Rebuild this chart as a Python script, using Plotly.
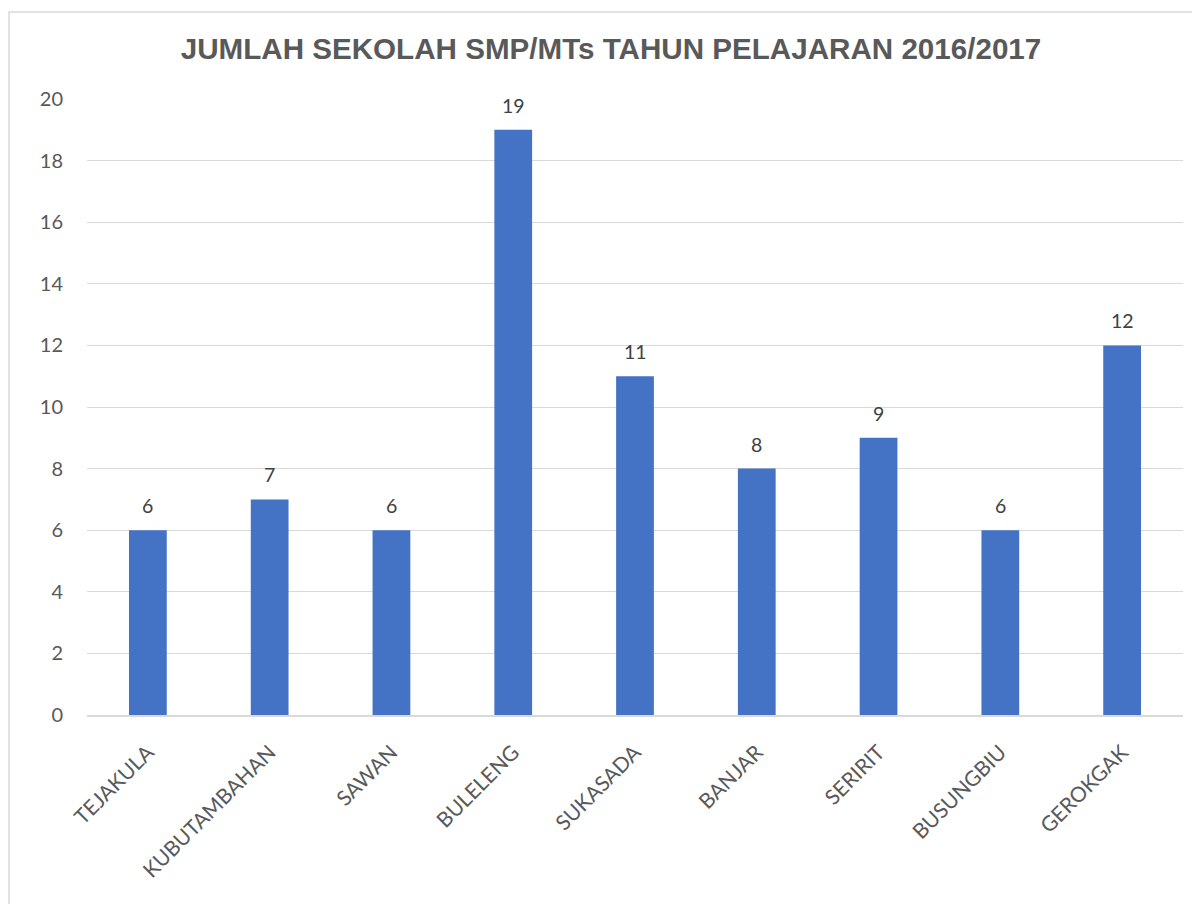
import plotly.graph_objects as go

categories = ["TEJAKULA", "KUBUTAMBAHAN", "SAWAN", "BULELENG", "SUKASADA",
              "BANJAR", "SERIRIT", "BUSUNGBIU", "GEROKGAK"]
values = [6, 7, 6, 19, 11, 8, 9, 6, 12]
y_ticks = [0, 2, 4, 6, 8, 10, 12, 14, 16, 18, 20]

W, H = 1200, 904
L, R, T, B = 79, 25, 91, 197
pw, ph = W - L - R, H - T - B

def px_x(p):
    return (p - L) / pw

def px_y(p):
    return (H - B - p) / ph

YTICKFONT = dict(family="Lato, Carlito, sans-serif", size=20, color="#595959")
XTICKFONT = dict(family="Lato, Carlito, sans-serif", size=21, color="#595959")

fig = go.Figure()
fig.add_trace(go.Bar(
    x=categories, y=values,
    marker=dict(color="#4472C4", line=dict(width=0)),
    hoverinfo="x+y",
))

annotations = [
    dict(x=c, y=v, xref="x", yref="y", text=str(v), showarrow=False,
         yanchor="bottom", yshift=11,
         font=dict(family="Lato, Carlito, sans-serif", size=19.5, color="#404040"))
    for c, v in zip(categories, values)
]

fig.update_layout(
    width=W, height=H,
    margin=dict(l=L, r=R, t=T, b=B),
    paper_bgcolor="white", plot_bgcolor="white",
    bargap=0.69,
    showlegend=False,
    title=dict(text="<b>JUMLAH SEKOLAH SMP/MTs TAHUN PELAJARAN 2016/2017</b>",
               x=603 / W, xref="container", xanchor="center",
               y=1 - 41 / H, yanchor="middle",
               font=dict(family="Liberation Sans, Arial, sans-serif", size=29.6, color="#595959")),
    xaxis=dict(tickangle=-45, showgrid=False, showline=True, linecolor="#d9d9d9",
               linewidth=1.5, ticks="", ticklabelstandoff=15,
               tickfont=XTICKFONT),
    yaxis=dict(range=[0, 20], tickvals=y_ticks, showgrid=True, gridcolor="#d9d9d9",
               gridwidth=1.3, zeroline=False, showline=False, ticks="",
               ticklabelstandoff=23,
               tickfont=YTICKFONT),
    annotations=annotations,
    shapes=[dict(type="rect", xref="paper", yref="paper",
                 x0=px_x(1), x1=px_x(1240), y0=px_y(940), y1=px_y(4),
                 line=dict(color="#d9d9d9", width=1.5), fillcolor="rgba(0,0,0,0)",
                 layer="below")],
)

fig.write_html("out.html")
